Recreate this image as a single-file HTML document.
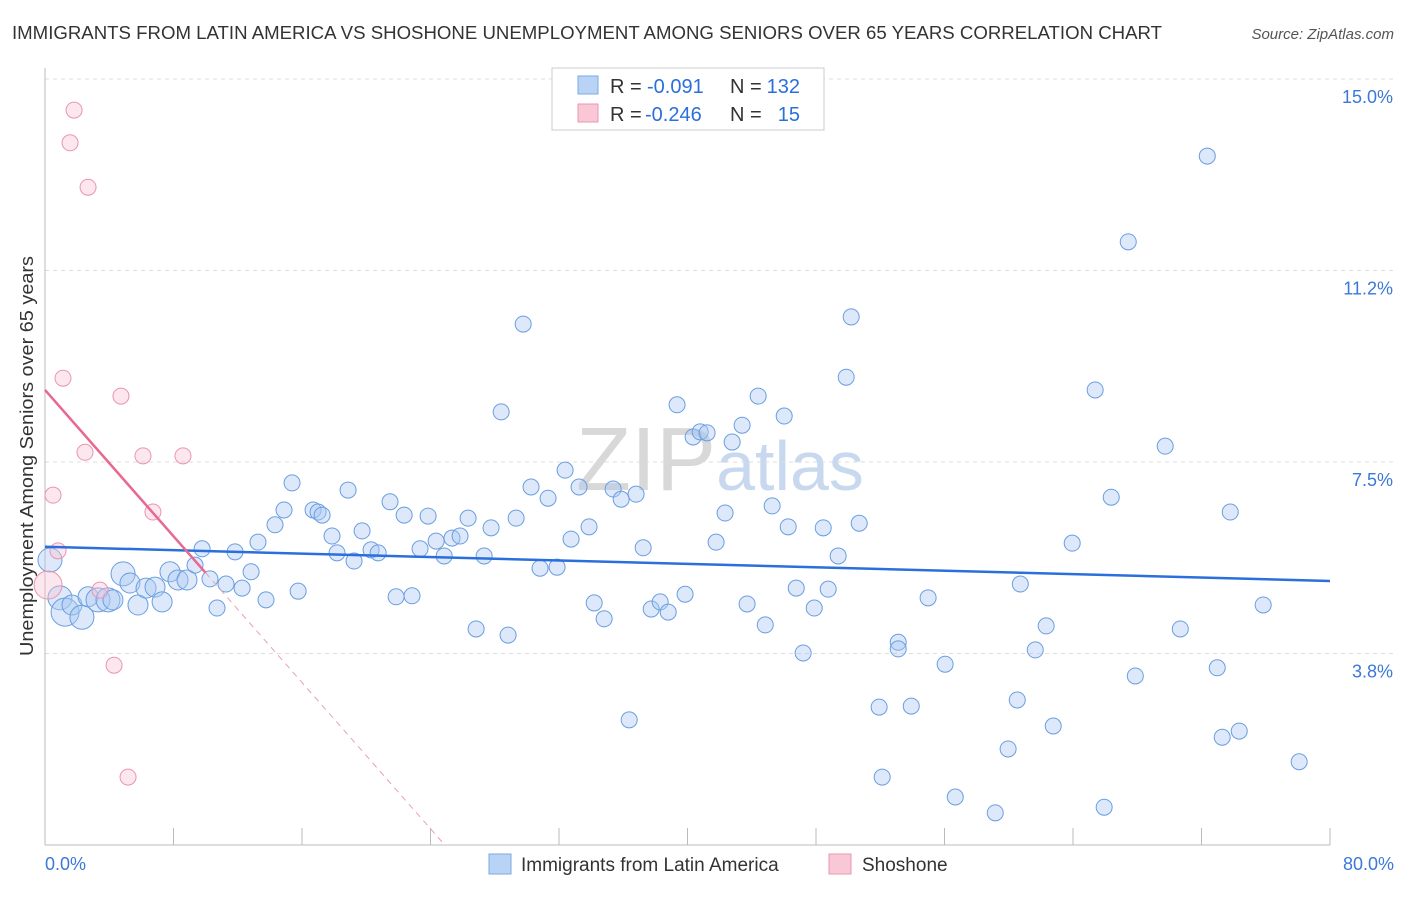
<!DOCTYPE html>
<html><head><meta charset="utf-8">
<style>
body{margin:0;background:#fff;font-family:"Liberation Sans",sans-serif;}
svg text{font-family:"Liberation Sans",sans-serif;}
</style></head>
<body>
<svg id="chart" width="1406" height="892" xmlns="http://www.w3.org/2000/svg">
<text x="12" y="39" font-size="18" fill="#333" textLength="1150" lengthAdjust="spacingAndGlyphs">IMMIGRANTS FROM LATIN AMERICA VS SHOSHONE UNEMPLOYMENT AMONG SENIORS OVER 65 YEARS CORRELATION CHART</text>
<text x="1394" y="39" font-size="15" fill="#555" font-style="italic" text-anchor="end">Source: ZipAtlas.com</text>
<text x="720" y="490" font-size="90" fill="#dde6ef" text-anchor="middle" font-family="Liberation Serif"><tspan fill="#d8d8d8">ZIP</tspan><tspan font-family="Liberation Sans" font-size="70" fill="#c8d9ef">atlas</tspan></text>
<g id="grid"></g>
<g id="axes"></g>
<g id="marks"></g>
<text transform="translate(33,456) rotate(-90)" font-size="18" fill="#333" text-anchor="middle" textLength="400" lengthAdjust="spacingAndGlyphs">Unemployment Among Seniors over 65 years</text>
<g>
<rect x="552" y="68" width="272" height="62" fill="#fff" stroke="#ccc"/>
<rect x="578" y="76" width="20" height="18" fill="#b9d3f5" stroke="#7aa8e6"/>
<rect x="578" y="104" width="20" height="18" fill="#f9c7d5" stroke="#e99ab0"/>
<text x="610" y="93" font-size="20" fill="#333">R =</text>
<text x="647" y="93" font-size="20" fill="#2a6fdb">-0.091</text>
<text x="730" y="93" font-size="20" fill="#333">N =</text>
<text x="800" y="93" font-size="20" fill="#2a6fdb" text-anchor="end">132</text>
<text x="610" y="121" font-size="20" fill="#333">R =</text>
<text x="645" y="121" font-size="20" fill="#2a6fdb">-0.246</text>
<text x="730" y="121" font-size="20" fill="#333">N =</text>
<text x="800" y="121" font-size="20" fill="#2a6fdb" text-anchor="end">15</text>
</g>
<g>
<rect x="489" y="854" width="22" height="20" fill="#b9d3f5" stroke="#7aa8e6"/>
<text x="521" y="871" font-size="19" fill="#333">Immigrants from Latin America</text>
<rect x="829" y="854" width="22" height="20" fill="#f9c7d5" stroke="#e99ab0"/>
<text x="862" y="871" font-size="19" fill="#333">Shoshone</text>
</g>
</svg>
<script>
const blueX=[0.31,0.93,1.25,1.68,2.30,2.68,3.30,3.92,4.23,4.86,5.29,5.79,6.29,6.85,7.29,7.78,8.28,8.84,9.34,9.78,10.27,10.71,11.27,11.83,12.27,12.83,13.26,13.76,14.32,14.88,15.38,15.76,16.69,17.00,17.25,17.87,18.18,18.87,19.24,19.74,20.30,20.74,21.48,21.86,22.36,22.85,23.35,23.85,24.35,24.85,25.34,25.84,26.34,26.84,27.34,27.77,28.40,28.83,29.33,29.77,30.26,30.82,31.32,31.88,32.38,32.75,33.25,33.87,34.19,34.81,35.37,35.87,36.37,36.80,37.24,37.74,38.30,38.80,39.35,39.85,40.35,40.79,41.22,41.78,42.34,42.78,43.40,43.71,44.40,44.84,45.27,46.02,46.27,46.77,47.20,47.89,48.45,48.76,49.38,49.88,50.19,50.69,51.93,52.12,53.12,53.12,53.93,54.98,56.04,56.67,59.16,59.96,60.53,60.72,61.65,62.33,62.77,63.95,65.38,65.94,66.38,67.44,67.88,69.74,70.68,72.36,72.98,73.29,73.79,74.35,75.84,78.08];
const blueY=[5.58,4.84,4.56,4.70,4.46,4.86,4.80,4.80,4.80,5.31,5.13,4.70,5.03,5.05,4.76,5.35,5.19,5.19,5.48,5.80,5.21,4.64,5.11,5.74,5.03,5.35,5.93,4.80,6.27,6.56,7.09,4.97,6.56,6.52,6.46,6.05,5.72,6.95,5.56,6.15,5.78,5.72,6.72,4.86,6.46,4.88,5.80,6.44,5.95,5.66,6.01,6.05,6.40,4.23,5.66,6.21,8.48,4.11,6.40,10.20,7.01,5.42,6.79,5.44,7.34,5.99,7.01,6.23,4.74,4.43,6.97,6.77,2.45,6.87,5.82,4.62,4.76,4.56,8.62,4.91,7.99,8.09,8.07,5.93,6.50,7.89,8.22,4.72,8.79,4.31,6.64,8.40,6.23,5.03,3.76,4.64,6.21,5.01,5.66,9.16,10.34,6.30,2.70,1.33,3.97,3.84,2.72,4.84,3.54,0.94,0.63,1.88,2.84,5.11,3.82,4.29,2.33,5.91,8.91,0.74,6.81,11.81,3.31,7.81,4.23,13.49,3.47,2.11,6.52,2.23,4.70,1.63];
const blueW=[12,12,14,10,12,10,12,12,10,12,10,10,10,10,10,10,10,10];
const pinkX=[1.81,1.56,2.68,1.12,4.73,2.49,6.10,8.59,0.50,6.72,0.81,3.42,4.30,5.17,0.19];
const pinkY=[14.39,13.75,12.88,9.14,8.79,7.69,7.62,7.62,6.85,6.52,5.76,4.99,3.52,1.33,5.09];
const pinkW=[8,8,8,8,8,8,8,8,8,8,8,8,8,8,14];
const blueTrend=[5.84,5.17];
const pinkTrend=[8.91,-0.358,24.9];
const xTicks=[0,8,16,24,32,40,48,56,64,72,80];
const yTicks=[3.75,7.5,11.25,15];
const yTickLabels=["3.8%","7.5%","11.2%","15.0%"];
const xTickLabels=["0.0%","80.0%"];

const X=v=>45+v*16.0625, Y=v=>845-v*51.07;
const NS="http://www.w3.org/2000/svg";
function mk(parent,tag,attrs){const e=document.createElementNS(NS,tag);for(const k in attrs)e.setAttribute(k,attrs[k]);parent.appendChild(e);return e;}
const grid=document.getElementById('grid'),axes=document.getElementById('axes'),marks=document.getElementById('marks');
yTicks.forEach((t,i)=>{
 const l=mk(grid,'line',{x1:45,x2:1394,y1:Y(t),y2:Y(t),stroke:'#ddd','stroke-dasharray':'4,4'});
 
 
 const tx=mk(axes,'text',{x:1393,y:Y(t)+24,'font-size':18,fill:'#3b78d8','text-anchor':'end'});
 tx.textContent=yTickLabels[i];
 
 
});
const ax=mk(axes,'line',{x1:45,x2:1330,y1:845,y2:845,stroke:'#bbb'});


const ay=mk(axes,'line',{x1:45,x2:45,y1:68,y2:845,stroke:'#bbb'});


xTicks.forEach(t=>{
 const l=mk(axes,'line',{x1:X(t),x2:X(t),y1:828,y2:845,stroke:'#bbb'});
 
 
});
[[0,'start',45],[80,'end',1394]].forEach((a,i)=>{
 const tx=mk(axes,'text',{x:a[2],y:870,'font-size':18,fill:'#3b78d8','text-anchor':a[1]});
 tx.textContent=xTickLabels[i];
 
 
});
blueX.forEach((v,i)=>{
 const c=mk(marks,'circle',{cx:X(v),cy:Y(blueY[i]),r:blueW[i]||8,fill:'rgba(170,200,242,0.4)',stroke:'#6a9ee0','stroke-width':1});
 
 
});
pinkX.forEach((v,i)=>{
 const c=mk(marks,'circle',{cx:X(v),cy:Y(pinkY[i]),r:pinkW[i],fill:'rgba(248,195,212,0.4)',stroke:'#e995b0','stroke-width':1});
 
 
});
const bt=mk(marks,'line',{x1:X(0),y1:Y(blueTrend[0]),x2:X(80),y2:Y(blueTrend[1]),stroke:'#2a6fdb','stroke-width':2.5});


const pe=10;
const ps=mk(marks,'line',{x1:X(0),y1:Y(pinkTrend[0]),x2:X(pe),y2:Y(pinkTrend[0]+pinkTrend[1]*pe),stroke:'#e8688f','stroke-width':2.5});


const pd=mk(marks,'line',{x1:X(pe),y1:Y(pinkTrend[0]+pinkTrend[1]*pe),x2:X(pinkTrend[2]),y2:Y(pinkTrend[0]+pinkTrend[1]*pinkTrend[2]),stroke:'#e8a0b5','stroke-width':1,'stroke-dasharray':'6,5'});


</script>
</body></html>
